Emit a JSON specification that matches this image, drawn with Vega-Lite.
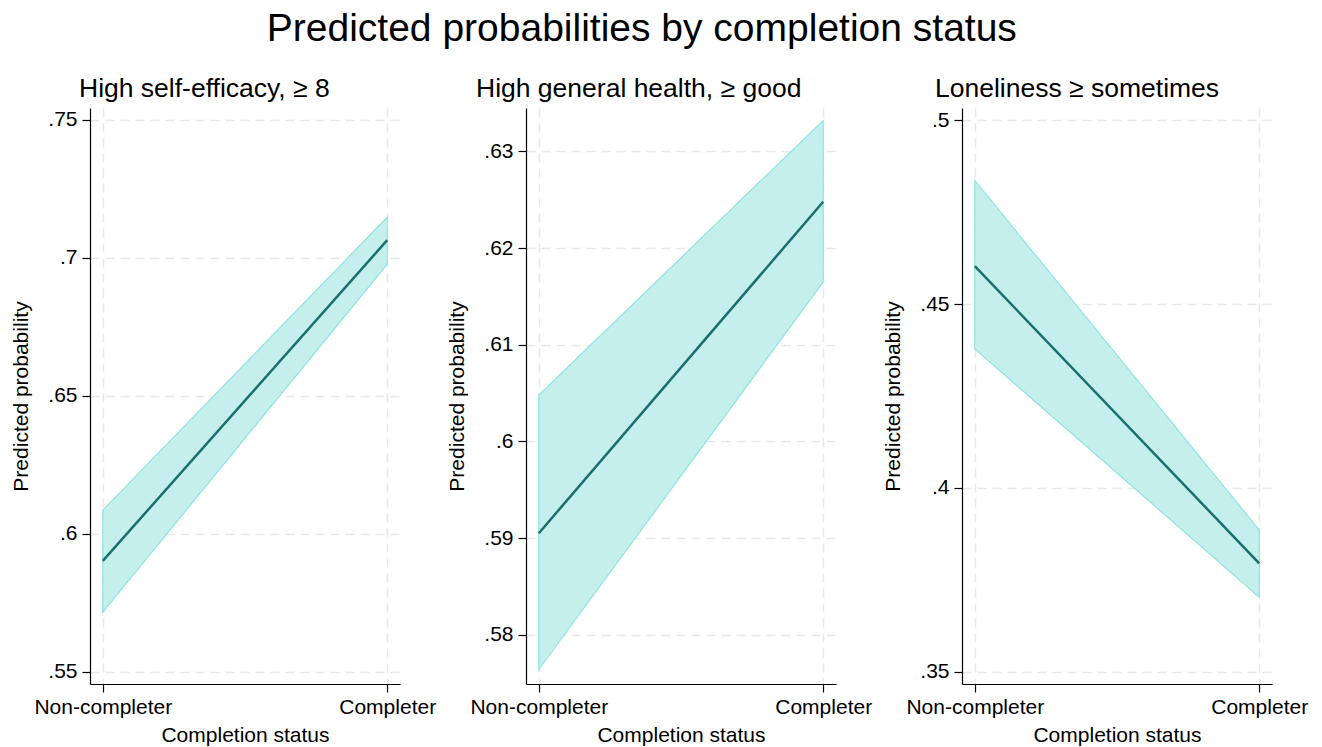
{
  "$schema": "https://vega.github.io/schema/vega-lite/v6.json",
  "padding": {"left": 10, "top": 9, "right": 5, "bottom": 5},
  "background": "white",
  "title": {"text": "Predicted probabilities by completion status", "fontSize": 39, "fontWeight": "normal", "font": "Liberation Sans", "color": "#000", "anchor": "middle", "dx": -17, "offset": 27},
  "datasets": {
    "pred": [
      {"panel": "p1", "status": "Non-completer", "est": 0.5902, "lo": 0.5716, "hi": 0.6086},
      {"panel": "p1", "status": "Completer", "est": 0.7064, "lo": 0.6977, "hi": 0.7147},
      {"panel": "p2", "status": "Non-completer", "est": 0.5905, "lo": 0.5764, "hi": 0.6048},
      {"panel": "p2", "status": "Completer", "est": 0.6248, "lo": 0.6165, "hi": 0.6332},
      {"panel": "p3", "status": "Non-completer", "est": 0.4603, "lo": 0.4378, "hi": 0.4836},
      {"panel": "p3", "status": "Completer", "est": 0.3795, "lo": 0.3703, "hi": 0.3886}
    ]
  },
  "hconcat": [
    {
      "width": 310, "height": 576,
      "data": {"name": "pred"},
      "transform": [{"filter": "datum.panel === 'p1'"}],
      "title": {"text": "High self-efficacy, ≥ 8", "anchor": "start", "frame": "group", "dx": -11, "fontSize": 26.5, "fontWeight": "normal", "offset": 6},
      "encoding": {
        "x": {"field": "status", "type": "nominal", "scale": {"type": "point", "padding": 0.045, "domain": ["Non-completer", "Completer"]}, "axis": {"title": "Completion status", "labelAngle": 0, "grid": true, "labelPadding": 4, "titlePadding": 7}}
      },
      "layer": [
        {"mark": {"type": "area", "fill": "#c4efed", "stroke": "#90e4de", "strokeWidth": 1.2, "opacity": 1},
         "encoding": {"y": {"field": "lo", "type": "quantitative", "scale": {"domain": [0.5456, 0.7543], "nice": false, "zero": false}, "axis": {"title": "Predicted probability", "values": [0.55, 0.6, 0.65, 0.7, 0.75], "labelExpr": "substring(format(datum.value,'~g'),1)", "titleX": -59, "titleY": 288}}, "y2": {"field": "hi"}}},
        {"mark": {"type": "line", "color": "#1c6f6c", "strokeWidth": 2.5},
         "encoding": {"y": {"field": "est", "type": "quantitative", "scale": {"domain": [0.5456, 0.7543], "nice": false, "zero": false}, "axis": {"title": "Predicted probability", "values": [0.55, 0.6, 0.65, 0.7, 0.75], "labelExpr": "substring(format(datum.value,'~g'),1)", "titleX": -59, "titleY": 288}}}}
      ]
    },
    {
      "width": 310, "height": 576,
      "data": {"name": "pred"},
      "transform": [{"filter": "datum.panel === 'p2'"}],
      "title": {"text": "High general health, ≥ good", "anchor": "start", "frame": "group", "dx": -50, "fontSize": 26.5, "fontWeight": "normal", "offset": 6},
      "encoding": {
        "x": {"field": "status", "type": "nominal", "scale": {"type": "point", "padding": 0.045, "domain": ["Non-completer", "Completer"]}, "axis": {"title": "Completion status", "labelAngle": 0, "grid": true, "labelPadding": 4, "titlePadding": 7}}
      },
      "layer": [
        {"mark": {"type": "area", "fill": "#c4efed", "stroke": "#90e4de", "strokeWidth": 1.2, "opacity": 1},
         "encoding": {"y": {"field": "lo", "type": "quantitative", "scale": {"domain": [0.5749, 0.6345], "nice": false, "zero": false}, "axis": {"title": "Predicted probability", "values": [0.58, 0.59, 0.6, 0.61, 0.62, 0.63], "labelExpr": "substring(format(datum.value,'~g'),1)", "titleX": -59, "titleY": 288}}, "y2": {"field": "hi"}}},
        {"mark": {"type": "line", "color": "#1c6f6c", "strokeWidth": 2.5},
         "encoding": {"y": {"field": "est", "type": "quantitative", "scale": {"domain": [0.5749, 0.6345], "nice": false, "zero": false}, "axis": {"title": "Predicted probability", "values": [0.58, 0.59, 0.6, 0.61, 0.62, 0.63], "labelExpr": "substring(format(datum.value,'~g'),1)", "titleX": -59, "titleY": 288}}}}
      ]
    },
    {
      "width": 310, "height": 576,
      "data": {"name": "pred"},
      "transform": [{"filter": "datum.panel === 'p3'"}],
      "title": {"text": "Loneliness ≥ sometimes", "anchor": "start", "frame": "group", "dx": -27, "fontSize": 26.5, "fontWeight": "normal", "offset": 6},
      "encoding": {
        "x": {"field": "status", "type": "nominal", "scale": {"type": "point", "padding": 0.045, "domain": ["Non-completer", "Completer"]}, "axis": {"title": "Completion status", "labelAngle": 0, "grid": true, "labelPadding": 4, "titlePadding": 7}}
      },
      "layer": [
        {"mark": {"type": "area", "fill": "#c4efed", "stroke": "#90e4de", "strokeWidth": 1.2, "opacity": 1},
         "encoding": {"y": {"field": "lo", "type": "quantitative", "scale": {"domain": [0.3467, 0.5033], "nice": false, "zero": false}, "axis": {"title": "Predicted probability", "values": [0.35, 0.4, 0.45, 0.5], "labelExpr": "substring(format(datum.value,'~g'),1)", "titleX": -59, "titleY": 288}}, "y2": {"field": "hi"}}},
        {"mark": {"type": "line", "color": "#1c6f6c", "strokeWidth": 2.5},
         "encoding": {"y": {"field": "est", "type": "quantitative", "scale": {"domain": [0.3467, 0.5033], "nice": false, "zero": false}, "axis": {"title": "Predicted probability", "values": [0.35, 0.4, 0.45, 0.5], "labelExpr": "substring(format(datum.value,'~g'),1)", "titleX": -59, "titleY": 288}}}}
      ]
    }
  ],
  "spacing": 126,
  "bounds": "flush",
  "config": {
    "font": "Liberation Sans",
    "view": {"stroke": null},
    "title": {"color": "#000", "font": "Liberation Sans"},
    "axis": {
      "labelFont": "Liberation Sans", "labelFontSize": 21, "labelColor": "#000",
      "titleFont": "Liberation Sans", "titleFontSize": 21, "titleFontWeight": "normal", "titleColor": "#000",
      "domainColor": "#000", "domainWidth": 1.2, "tickColor": "#000", "tickSize": 8, "tickWidth": 1.2,
      "gridColor": "#e8e8e8", "gridDash": [9, 6], "gridWidth": 1.5, "labelPadding": 5
    }
  }
}
